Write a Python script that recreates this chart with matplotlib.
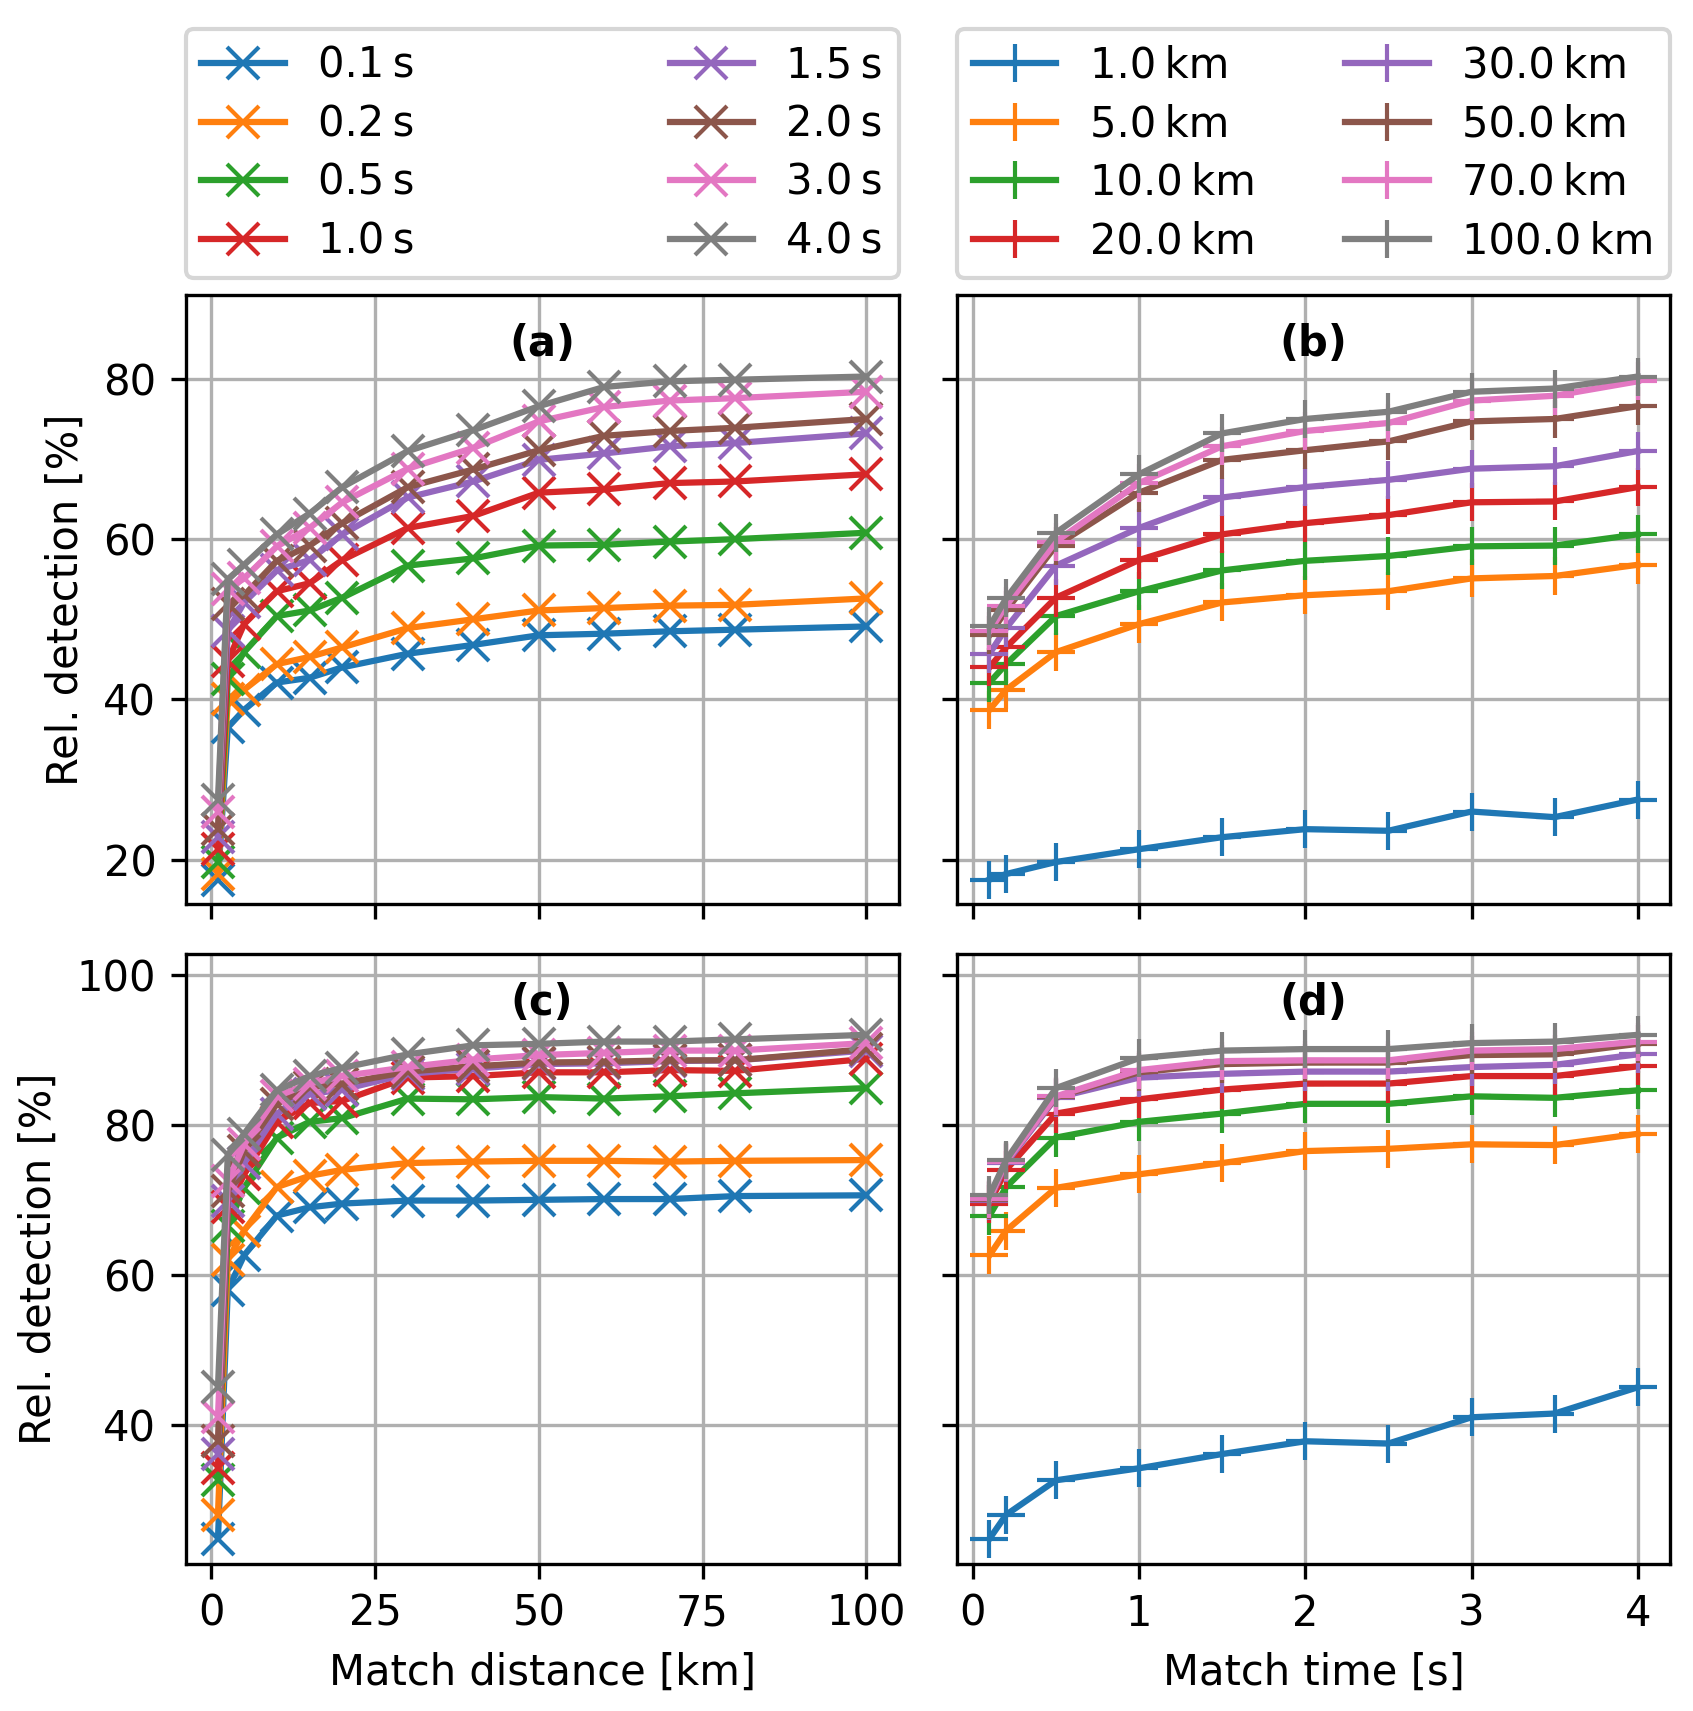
import matplotlib
matplotlib.use("Agg")
import matplotlib.pyplot as plt

# match distances [km] used on the x axis of (a)/(c)
dist_km = [1, 2.5, 5, 10, 15, 20, 30, 40, 50, 60, 70, 80, 100]
# match times [s] used on the x axis of (b)/(d)
time_s = [0.1, 0.2, 0.5, 1.0, 1.5, 2.0, 2.5, 3.0, 3.5, 4.0]

# series shown in (a)/(c): one curve per match time
a_times = [0.1, 0.2, 0.5, 1.0, 1.5, 2.0, 3.0, 4.0]
# series shown in (b)/(d): one curve per match distance
b_dists = [1.0, 5.0, 10.0, 20.0, 30.0, 50.0, 70.0, 100.0]

# (a) relative detection vs distance, rows follow a_times
a_vals = [
    [17.5, 36.5, 38.7, 42.1, 42.7, 44.0, 45.7, 46.8, 48.0, 48.2, 48.5, 48.7, 49.1],
    [18.2, 40.0, 41.2, 44.4, 45.3, 46.5, 48.9, 50.0, 51.1, 51.4, 51.7, 51.8, 52.6],
    [19.7, 42.5, 45.9, 50.4, 51.1, 52.7, 56.7, 57.6, 59.2, 59.3, 59.7, 60.0, 60.8],
    [21.3, 44.8, 49.4, 53.5, 54.5, 57.4, 61.4, 62.9, 65.8, 66.2, 67.0, 67.2, 68.1],
    [22.8, 48.5, 52.1, 56.1, 57.4, 60.6, 65.2, 67.2, 69.9, 70.7, 71.6, 72.0, 73.2],
    [23.8, 51.9, 53.0, 57.3, 59.2, 62.0, 66.5, 68.7, 71.1, 72.9, 73.5, 73.9, 75.0],
    [26.0, 53.8, 55.1, 59.1, 61.4, 64.6, 68.8, 71.4, 74.7, 76.5, 77.3, 77.6, 78.4],
    [27.5, 55.0, 56.8, 60.6, 63.2, 66.5, 71.0, 73.6, 76.6, 79.0, 79.7, 79.9, 80.3],
]

# (b) relative detection vs time, rows follow b_dists
b_vals = [
    [17.5, 18.2, 19.7, 21.3, 22.8, 23.8, 23.6, 26.0, 25.3, 27.5],
    [38.7, 41.2, 45.9, 49.4, 52.1, 53.0, 53.5, 55.1, 55.4, 56.8],
    [42.1, 44.4, 50.4, 53.5, 56.1, 57.3, 57.9, 59.1, 59.2, 60.6],
    [44.0, 46.5, 52.7, 57.4, 60.6, 62.0, 63.0, 64.6, 64.7, 66.5],
    [45.7, 48.9, 56.7, 61.4, 65.2, 66.5, 67.4, 68.8, 69.1, 71.0],
    [48.0, 51.1, 59.2, 65.8, 69.9, 71.1, 72.2, 74.7, 75.0, 76.6],
    [48.5, 51.7, 59.7, 67.0, 71.6, 73.5, 74.5, 77.3, 77.9, 79.7],
    [49.1, 52.6, 60.8, 68.1, 73.2, 75.0, 75.9, 78.4, 78.8, 80.3],
]

# (c) second metric vs distance, rows follow a_times
c_vals = [
    [24.8, 58.0, 62.6, 67.9, 69.0, 69.5, 69.9, 69.9, 70.0, 70.1, 70.1, 70.5, 70.6],
    [28.0, 62.0, 65.9, 71.7, 73.2, 74.0, 74.9, 75.1, 75.2, 75.2, 75.1, 75.2, 75.3],
    [32.6, 66.5, 71.6, 78.3, 80.4, 80.9, 83.5, 83.4, 83.7, 83.5, 83.8, 84.2, 84.9],
    [34.2, 69.0, 73.4, 80.4, 82.9, 83.2, 86.3, 86.5, 87.0, 87.0, 87.3, 87.2, 88.8],
    [36.1, 69.9, 74.9, 81.5, 84.1, 84.7, 86.8, 87.5, 88.1, 88.2, 88.5, 88.6, 89.9],
    [37.8, 71.2, 76.5, 82.8, 85.0, 85.5, 87.1, 87.8, 88.3, 88.4, 88.6, 88.6, 90.1],
    [41.0, 72.5, 77.4, 83.8, 85.5, 86.5, 87.7, 88.7, 89.3, 89.6, 89.9, 89.9, 90.9],
    [45.0, 76.0, 78.8, 84.6, 86.5, 87.6, 89.4, 90.6, 90.8, 91.1, 91.1, 91.4, 92.0],
]

# (d) second metric vs time, rows follow b_dists
d_vals = [
    [24.8, 28.0, 32.6, 34.2, 36.1, 37.8, 37.5, 41.0, 41.5, 45.0],
    [62.6, 65.9, 71.6, 73.4, 74.9, 76.5, 76.8, 77.4, 77.3, 78.8],
    [67.9, 71.7, 78.3, 80.4, 81.5, 82.8, 82.8, 83.8, 83.6, 84.6],
    [69.5, 74.0, 81.5, 83.4, 84.7, 85.5, 85.5, 86.5, 86.5, 87.8],
    [69.9, 74.9, 83.6, 86.3, 86.8, 87.1, 87.1, 87.7, 88.0, 89.4],
    [70.0, 75.2, 83.7, 87.0, 88.1, 88.3, 88.3, 89.3, 89.4, 90.8],
    [70.1, 75.1, 83.8, 87.3, 88.5, 88.6, 88.6, 89.9, 90.1, 91.1],
    [70.6, 75.3, 84.9, 88.9, 89.9, 90.1, 90.1, 90.9, 91.1, 92.0],
]

fig, axes = plt.subplots(2, 2, sharex='col', sharey='row',
                         figsize=(1693 / 300, 1711 / 300), dpi=300)
fig.subplots_adjust(left=0.1096, right=0.9865, bottom=0.0862, top=0.8277,
                    wspace=0.082, hspace=0.081)

ax_a, ax_b = axes[0]
ax_c, ax_d = axes[1]

for t, ya, yc in zip(a_times, a_vals, c_vals):
    lab = f"{t:.1f}\u2009s"
    ax_a.plot(dist_km, ya, marker='x', markersize=7.5, label=lab)
    ax_c.plot(dist_km, yc, marker='x', markersize=7.5, label=lab)

for km, yb, yd in zip(b_dists, b_vals, d_vals):
    lab = f"{km:.1f}\u2009km"
    ax_b.plot(time_s, yb, marker='+', markersize=9, label=lab)
    ax_d.plot(time_s, yd, marker='+', markersize=9, label=lab)

for ax, tag in zip([ax_a, ax_b, ax_c, ax_d], ['(a)', '(b)', '(c)', '(d)']):
    ax.grid(True)
    ax.text(0.5, 0.92, tag, transform=ax.transAxes, ha='center', va='center',
            fontweight='bold')

ax_a.set_ylim(14.4, 90.5)
ax_c.set_ylim(21.5, 102.8)
ax_a.set_yticks([20, 40, 60, 80])
ax_c.set_yticks([40, 60, 80, 100])
ax_c.set_xticks([0, 25, 50, 75, 100])
ax_d.set_xticks([0, 1, 2, 3, 4])

ax_a.set_ylabel("Rel. detection [%]")
ax_c.set_ylabel("Rel. detection [%]")
ax_c.set_xlabel("Match distance [km]")
ax_d.set_xlabel("Match time [s]")

for ax in (ax_a, ax_b):
    ax.legend(ncol=2, loc='lower left', bbox_to_anchor=(0, 1.027, 1, 0.3),
              mode='expand', borderaxespad=0, labelspacing=0.4,
              borderpad=0.38)

fig.savefig("out.png", dpi=300)
